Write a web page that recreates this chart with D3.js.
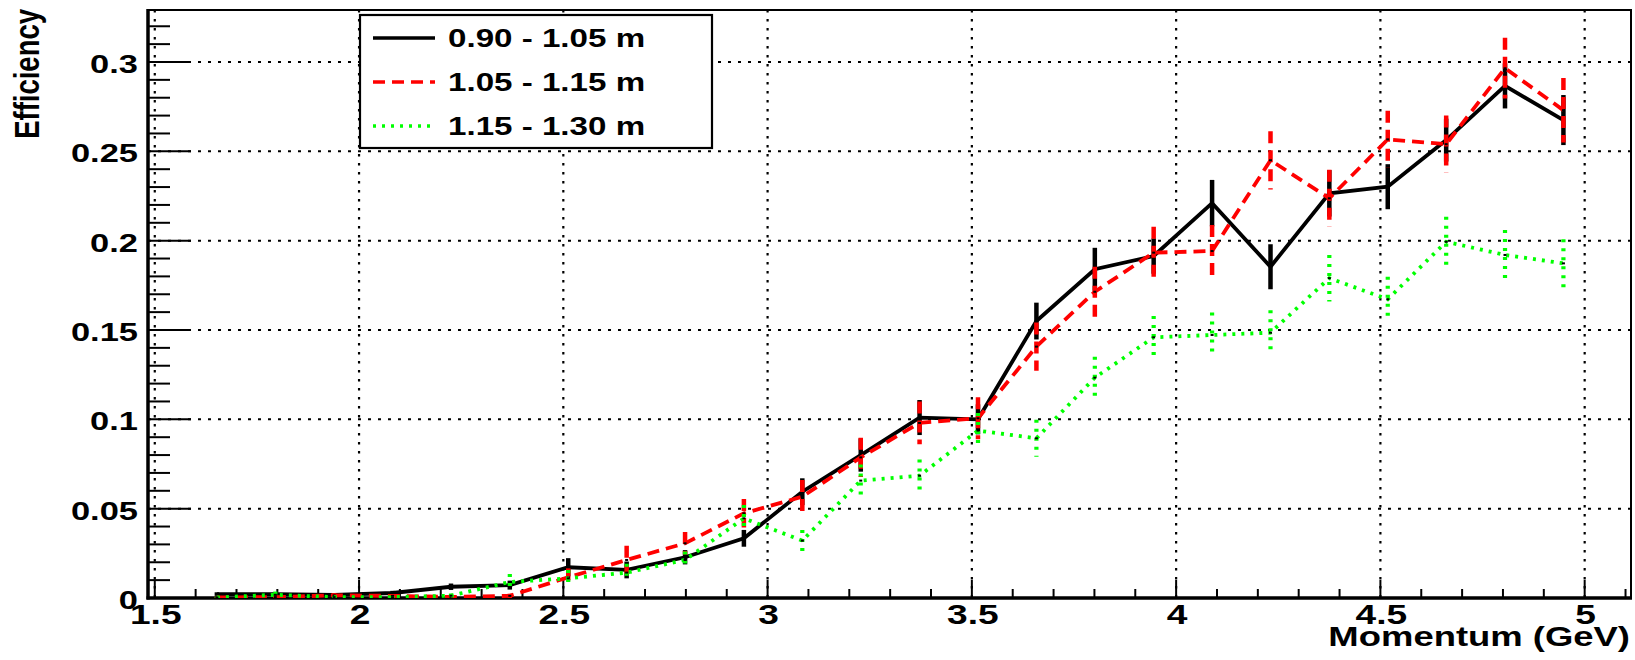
<!DOCTYPE html>
<html>
<head>
<meta charset="utf-8">
<script src="https://cdn.jsdelivr.net/npm/d3@7"></script>
<style>
  html, body { margin: 0; padding: 0; background: #fff; }
  svg { display: block; }
  text { font-family: "Liberation Sans", Arial, Helvetica, sans-serif; font-weight: bold; fill: #000; }
</style>
</head>
<body>
<svg id="chart" width="1635" height="660"></svg>
<script>
// ---- data ----
const momentum = [1.652, 1.795, 1.939, 2.082, 2.225, 2.369, 2.512, 2.655, 2.798, 2.942, 3.085, 3.228,
                  3.372, 3.515, 3.658, 3.801, 3.945, 4.088, 4.231, 4.375, 4.518, 4.661, 4.805, 4.948];

const seriesNames = ["0.90 - 1.05 m", "1.05 - 1.15 m", "1.15 - 1.30 m"];

const eff1 = [0.0022, 0.0022, 0.0017, 0.0028, 0.0063, 0.0072, 0.0172, 0.0157, 0.0228, 0.0334, 0.0595, 0.0800,
              0.1010, 0.1000, 0.1550, 0.1840, 0.1914, 0.2210, 0.1854, 0.2265, 0.2302, 0.2563, 0.2866, 0.2675];
const err1 = [0.001, 0.001, 0.001, 0.0012, 0.0018, 0.0025, 0.0051, 0.0047, 0.004, 0.0047, 0.0075, 0.0093,
              0.0098, 0.0084, 0.0103, 0.012, 0.0099, 0.013, 0.0126, 0.013, 0.0126, 0.012, 0.0126, 0.014];

const eff2 = [0.0003, 0.0005, 0.0015, 0.0012, 0.0006, 0.0012, 0.0116, 0.0213, 0.0306, 0.0474, 0.0567, 0.0787,
              0.0980, 0.1006, 0.1407, 0.1714, 0.1933, 0.1942, 0.2450, 0.2237, 0.2567, 0.2540, 0.2965, 0.2730];
const err2 = [0.0005, 0.0007, 0.0012, 0.001, 0.0008, 0.0012, 0.005, 0.008, 0.0063, 0.008, 0.0093, 0.011,
              0.012, 0.0117, 0.0135, 0.014, 0.0145, 0.0145, 0.0163, 0.016, 0.016, 0.016, 0.017, 0.018];

const eff3 = [0.0003, 0.0018, 0.0005, 0.0005, 0.0013, 0.0090, 0.0110, 0.0142, 0.0213, 0.0446, 0.0321, 0.0657,
              0.0685, 0.0937, 0.0894, 0.1233, 0.1459, 0.1472, 0.1485, 0.1790, 0.1672, 0.1994, 0.1920, 0.1873];
const err3 = [0.0004, 0.0018, 0.0006, 0.0006, 0.0012, 0.0045, 0.0047, 0.005, 0.0047, 0.0075, 0.006, 0.009,
              0.009, 0.0098, 0.0103, 0.0117, 0.012, 0.0126, 0.0126, 0.013, 0.0126, 0.014, 0.014, 0.0135];

const xTickValues = [1.5, 2, 2.5, 3, 3.5, 4, 4.5, 5];
const xTickLabels = ["1.5", "2", "2.5", "3", "3.5", "4", "4.5", "5"];
const yTickValues = [0, 0.05, 0.1, 0.15, 0.2, 0.25, 0.3];
const yTickLabels = ["0", "0.05", "0.1", "0.15", "0.2", "0.25", "0.3"];
const xDomain = [1.4834, 5.1134];
const yDomain = [0, 0.3291];
const xTitle = "Momentum (GeV)";
const yTitle = "Efficiency";

// ---- layout ----
const L = 148, R = 1631, T = 10, B = 598;
const SX = 1.3; // horizontal text stretch of the original

const svg = d3.select("#chart");
const x = d3.scaleLinear().domain(xDomain).range([L, R]);
const y = d3.scaleLinear().domain(yDomain).range([B, T]);

svg.append("defs").append("clipPath").attr("id", "plotclip")
  .append("rect").attr("x", L).attr("y", T).attr("width", R - L).attr("height", B - T);

// grid
const grid = svg.append("g");
grid.selectAll("line.vg").data(xTickValues).join("line")
  .attr("x1", d => x(d)).attr("x2", d => x(d)).attr("y1", T).attr("y2", B)
  .attr("stroke", "#000").attr("stroke-width", 2.2).attr("stroke-dasharray", "2.5,6.5");
grid.selectAll("line.hg").data(yTickValues.filter(v => v > 0)).join("line")
  .attr("x1", L).attr("x2", R).attr("y1", d => y(d)).attr("y2", d => y(d))
  .attr("stroke", "#000").attr("stroke-width", 2).attr("stroke-dasharray", "3,7");

// frame
svg.append("rect").attr("x", L).attr("y", T).attr("width", R - L).attr("height", B - T)
  .attr("fill", "none").attr("stroke", "#000").attr("stroke-width", 2);

// y ticks
const yMinor = d3.range(0, 0.3291, 0.01).map(v => +v.toFixed(2));
svg.append("g").selectAll("line").data(yMinor).join("line")
  .attr("x1", L).attr("x2", d => L + (Math.abs(d / 0.05 - Math.round(d / 0.05)) < 1e-6 ? 43 : 22))
  .attr("y1", d => y(d)).attr("y2", d => y(d))
  .attr("stroke", "#000").attr("stroke-width", 2);

// x ticks
const xMinor = d3.range(1.5, 5.1134, 0.1).map(v => +v.toFixed(1));
svg.append("g").selectAll("line").data(xMinor).join("line")
  .attr("x1", d => x(d)).attr("x2", d => x(d)).attr("y1", B)
  .attr("y2", d => B - (Math.abs(d / 0.5 - Math.round(d / 0.5)) < 1e-6 ? 18 : 9))
  .attr("stroke", "#000").attr("stroke-width", 2);

// axis lines (thicker)
svg.append("line").attr("x1", L).attr("x2", L).attr("y1", T - 1).attr("y2", B + 1.5)
  .attr("stroke", "#000").attr("stroke-width", 3.5);
svg.append("line").attr("x1", L - 1.5).attr("x2", R + 1).attr("y1", B).attr("y2", B)
  .attr("stroke", "#000").attr("stroke-width", 3.5);

// tick labels
svg.append("g").selectAll("text").data(yTickValues).join("text")
  .attr("transform", d => `translate(138,${y(d) + 11}) scale(${SX},1)`)
  .attr("text-anchor", "end").attr("font-size", 26.5)
  .text((d, i) => yTickLabels[i]);
svg.append("g").selectAll("text").data(xTickValues).join("text")
  .attr("transform", d => `translate(${x(d) + 1},624) scale(${SX + 0.05},1)`)
  .attr("text-anchor", "middle").attr("font-size", 27.5)
  .text((d, i) => xTickLabels[i]);

// titles
svg.append("text").attr("transform", `translate(1630,646) scale(${SX + 0.05},1)`)
  .attr("text-anchor", "end").attr("font-size", 27).text(xTitle);
svg.append("text").attr("transform", `translate(39,9) scale(${SX},1) rotate(-90)`)
  .attr("text-anchor", "end").attr("font-size", 27.5).text(yTitle);

// series
const series = [
  { name: seriesNames[0], v: eff1, e: err1, color: "#000000", dash: null, w: 3.8, ew: 4.5 },
  { name: seriesNames[1], v: eff2, e: err2, color: "#ff0000", dash: "12,7", w: 3.8, ew: 4.5 },
  { name: seriesNames[2], v: eff3, e: err3, color: "#00ff00", dash: "3,6", w: 3.8, ew: 4.2 }
];

const plot = svg.append("g").attr("clip-path", "url(#plotclip)");
const line = d3.line().x(d => x(d[0])).y(d => y(d[1]));
series.forEach(s => {
  const pts = momentum.map((m, i) => [m, s.v[i], s.e[i]]);
  const g = plot.append("g");
  g.selectAll("line").data(pts).join("line")
    .attr("x1", d => x(d[0])).attr("x2", d => x(d[0]))
    .attr("y1", d => y(d[1] + d[2])).attr("y2", d => y(d[1] - d[2]))
    .attr("stroke", s.color).attr("stroke-width", s.ew)
    .attr("stroke-dasharray", s.dash);
  g.append("path").datum(pts).attr("d", line)
    .attr("fill", "none").attr("stroke", s.color).attr("stroke-width", s.w)
    .attr("stroke-linejoin", "miter").attr("stroke-dasharray", s.dash);
  g.selectAll("rect").data(pts).join("rect")
    .attr("x", d => x(d[0]) - 1.5).attr("y", d => y(d[1]) - 1)
    .attr("width", 3).attr("height", 2).attr("fill", "#000");
});

// legend
const lg = svg.append("g");
lg.append("rect").attr("x", 360).attr("y", 15).attr("width", 352).attr("height", 133)
  .attr("fill", "#fff").attr("stroke", "#000").attr("stroke-width", 2.2);
const rowY = [38, 82, 126];
series.forEach((s, i) => {
  lg.append("line").attr("x1", 373).attr("x2", 435).attr("y1", rowY[i]).attr("y2", rowY[i])
    .attr("stroke", s.color).attr("stroke-width", 3.6).attr("stroke-dasharray", s.dash);
  lg.append("text").attr("transform", `translate(448,${rowY[i] + 9}) scale(${SX},1)`)
    .attr("font-size", 25.5).text(s.name);
});
</script>
</body>
</html>
